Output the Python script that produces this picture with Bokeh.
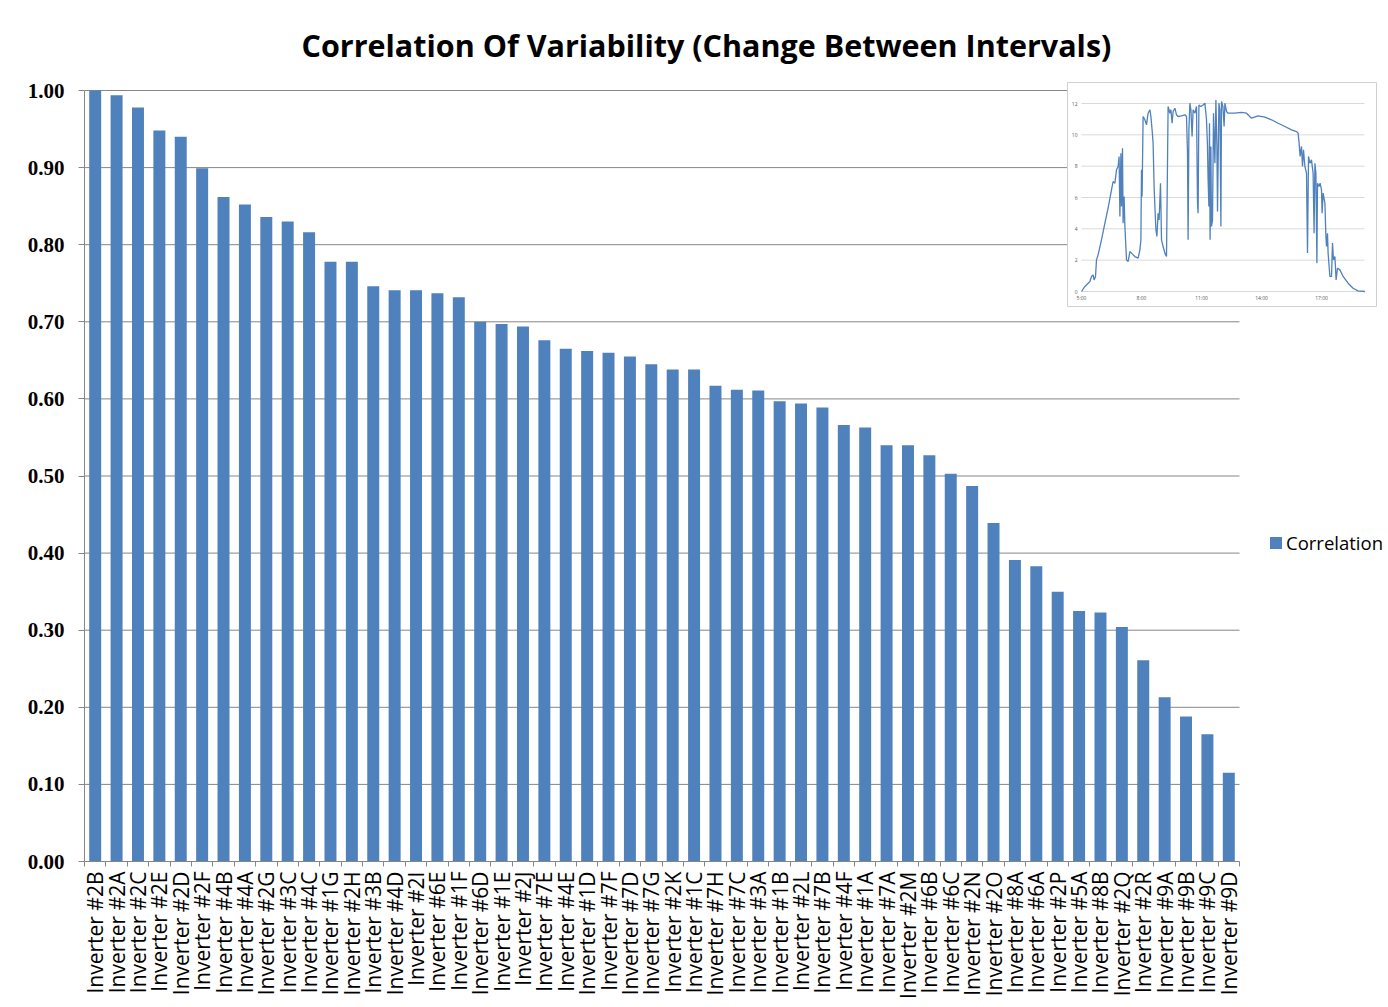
import math
from bokeh.plotting import figure
from bokeh.models import (Range1d, FixedTicker, PrintfTickFormatter, ColumnDataSource,
                          Legend, LegendItem)
from bokeh.core.properties import value
from bokeh.embed import file_html
from bokeh.resources import INLINE

# ---------------- data ----------------
inverters = [
    "Inverter #2B", "Inverter #2A", "Inverter #2C", "Inverter #2E", "Inverter #2D", "Inverter #2F",
    "Inverter #4B", "Inverter #4A", "Inverter #2G", "Inverter #3C", "Inverter #4C", "Inverter #1G",
    "Inverter #2H", "Inverter #3B", "Inverter #4D", "Inverter #2I", "Inverter #6E", "Inverter #1F",
    "Inverter #6D", "Inverter #1E", "Inverter #2J", "Inverter #7E", "Inverter #4E", "Inverter #1D",
    "Inverter #7F", "Inverter #7D", "Inverter #7G", "Inverter #2K", "Inverter #1C", "Inverter #7H",
    "Inverter #7C", "Inverter #3A", "Inverter #1B", "Inverter #2L", "Inverter #7B", "Inverter #4F",
    "Inverter #1A", "Inverter #7A", "Inverter #2M", "Inverter #6B", "Inverter #6C", "Inverter #2N",
    "Inverter #2O", "Inverter #8A", "Inverter #6A", "Inverter #2P", "Inverter #5A", "Inverter #8B",
    "Inverter #2Q", "Inverter #2R", "Inverter #9A", "Inverter #9B", "Inverter #9C", "Inverter #9D",
]
correlation = [
    1.000, 0.994, 0.978, 0.948, 0.940, 0.899,
    0.862, 0.852, 0.836, 0.830, 0.816, 0.778,
    0.778, 0.746, 0.741, 0.741, 0.737, 0.732,
    0.700, 0.697, 0.694, 0.676, 0.665, 0.662,
    0.660, 0.655, 0.645, 0.638, 0.638, 0.617,
    0.612, 0.611, 0.597, 0.594, 0.589, 0.566,
    0.563, 0.540, 0.540, 0.527, 0.503, 0.487,
    0.439, 0.391, 0.383, 0.350, 0.325, 0.323,
    0.304, 0.261, 0.213, 0.188, 0.165, 0.115,
]
y_ticks = [0.0, 0.1, 0.2, 0.3, 0.4, 0.5, 0.6, 0.7, 0.8, 0.9, 1.0]
series_name = "Correlation"
title_text = "Correlation Of Variability (Change Between Intervals)"

# inset: daily output curve (hour of day, output)
inset_hours = [
    5.00, 5.17, 5.42, 5.50, 5.58, 5.63, 5.70, 5.75, 5.83, 6.00, 6.17, 6.33, 6.50, 6.58, 6.67,
    6.75, 6.83, 6.88, 6.92, 6.97, 7.00, 7.05, 7.08, 7.13, 7.17, 7.25, 7.33, 7.42, 7.50, 7.67,
    7.83, 7.92, 7.97, 8.00, 8.03, 8.08, 8.17, 8.25, 8.33, 8.42, 8.47, 8.53, 8.58, 8.63, 8.67,
    8.72, 8.77, 8.83, 8.88, 8.95, 9.00, 9.08, 9.17, 9.25, 9.33, 9.42, 9.47, 9.53, 9.58, 9.67,
    9.75, 9.83, 10.00, 10.17, 10.25, 10.30, 10.33, 10.37, 10.42, 10.47, 10.53, 10.58, 10.67,
    10.75, 10.80, 10.83, 10.87, 10.97, 11.08, 11.17, 11.25, 11.30, 11.33, 11.37, 11.40, 11.43,
    11.47, 11.50, 11.55, 11.60, 11.67, 11.72, 11.77, 11.80, 11.87, 11.92, 11.97, 12.00, 12.07,
    12.13, 12.17, 12.25, 12.33, 12.67, 13.00, 13.25, 13.50, 13.83, 14.17, 14.50, 14.83, 15.17,
    15.50, 15.75, 15.83, 15.88, 15.93, 16.00, 16.05, 16.10, 16.17, 16.25, 16.30, 16.35, 16.42,
    16.50, 16.58, 16.63, 16.67, 16.72, 16.77, 16.80, 16.87, 16.93, 17.00, 17.03, 17.08, 17.17,
    17.22, 17.25, 17.30, 17.33, 17.42, 17.50, 17.55, 17.60, 17.67, 17.73, 17.80, 17.92, 18.08,
    18.33, 18.58, 18.83, 19.17,
]
inset_output = [
    0.00, 0.32, 0.64, 0.96, 1.06, 0.74, 0.96, 2.02, 2.34, 3.30, 4.36, 5.32, 6.49, 7.02, 6.91,
    7.77, 7.98, 8.62, 4.79, 8.83, 5.43, 9.15, 4.36, 6.06, 4.15, 2.02, 1.91, 2.55, 2.45, 2.23,
    2.13, 2.66, 3.30, 7.77, 6.06, 11.17, 10.96, 10.64, 11.38, 11.60, 11.17, 10.32, 9.47, 6.70, 5.43,
    3.94, 3.51, 5.00, 4.57, 6.91, 3.30, 2.87, 2.45, 2.23, 11.81, 11.38, 11.60, 10.74, 11.49, 11.70,
    11.28, 11.17, 11.21, 11.28, 11.17, 8.83, 3.30, 10.32, 12.02, 11.60, 9.89, 11.60, 11.38,
    11.81, 5.64, 5.00, 11.91, 11.81, 11.91, 12.02, 10.96, 9.26, 7.13, 5.43, 10.74, 3.30,
    9.26, 4.15, 4.57, 11.38, 8.19, 12.23, 9.26, 5.11, 12.02, 11.60, 4.15, 12.13, 11.81,
    10.53, 12.02, 11.49, 11.38, 11.38, 11.43, 11.38, 11.06, 11.21, 11.13, 10.96, 10.74, 10.53,
    10.32, 10.21, 10.11, 9.47, 8.62, 9.26, 7.98, 9.04, 7.98, 7.55, 2.45, 8.62, 8.19,
    8.40, 7.55, 3.72, 8.19, 7.55, 1.81, 6.91, 6.70, 6.91, 6.49, 5.00, 6.28, 5.64,
    3.51, 2.87, 3.72, 2.45, 0.96, 0.96, 3.09, 2.02, 2.23, 0.74, 1.49, 1.38, 0.96,
    0.53, 0.21, 0.04, 0.00,
]
inset_y_ticks = [0, 2, 4, 6, 8, 10, 12]
inset_y_labels = ["0", "2", "4", "6", "8", "10", "12"]
inset_x_ticks = [5, 8, 11, 14, 17]
inset_x_labels = ["5:00", "8:00", "11:00", "14:00", "17:00"]

# ---------------- layout constants (page pixels) ----------------
PAGE = 1                                        # observed page offset of the figure
FIG_W, FIG_H = 1386, 1004
FR_L, FR_R, FR_T, FR_B = 85, 1384, 80, 862     # frame edges
CAT_R = 1240                                    # right end of category axis
Y1_PX = 91                                      # pixel of value 1.00

BAR_COLOR = "#4f81bd"
GRID_COLOR = "#868686"

n = len(inverters)
x_end = -0.5 + n * (FR_R - FR_L) / (CAT_R - FR_L)
y_end = 1.0 + (Y1_PX - FR_T) / (FR_B - Y1_PX)

p = figure(width=FIG_W, height=FIG_H, output_backend="svg", toolbar_location=None,
           x_range=Range1d(-0.5, x_end), y_range=Range1d(0, y_end),
           min_border_left=FR_L - PAGE, min_border_right=PAGE + FIG_W - FR_R,
           min_border_top=FR_T - PAGE, min_border_bottom=PAGE + FIG_H - FR_B,
           background_fill_color="white", border_fill_color="white")
p.outline_line_color = None
p.xgrid.visible = False
p.ygrid.visible = False

# title
p.title.text = title_text
p.title.text_font = "Open Sans"
p.title.text_font_style = "bold"
p.title.text_font_size = "30.5px"
p.title.text_color = "#000000"
p.title.align = "left"
p.title.offset = 217
p.title.standoff = 27

# inset ranges (pixel mapping of the inset chart)
IN_X5_PX, IN_PX_PER_H = 1082, 20.0
IN_Y0_PX, IN_Y12_PX = 292, 104
in_px_per_unit = (IN_Y0_PX - IN_Y12_PX) / 12.0
def ix(px):
    return 5 + (px - IN_X5_PX) / IN_PX_PER_H
def iy(py):
    return (IN_Y0_PX - py) / in_px_per_unit
p.extra_x_ranges = {"inset": Range1d(ix(FR_L), ix(FR_R))}
p.extra_y_ranges = {"inset": Range1d(iy(FR_B), iy(FR_T))}

# main gridlines
grid_vals = [t for t in y_ticks if t > 0]
p.segment(x0=[-0.5] * len(grid_vals), x1=[n - 0.5] * len(grid_vals), y0=grid_vals, y1=grid_vals,
          line_color=GRID_COLOR, line_width=1)

# bars
src = ColumnDataSource(dict(x=list(range(n)), top=correlation, name=inverters))
bars = p.vbar(x="x", top="top", bottom=0, width=0.56, source=src,
              fill_color=BAR_COLOR, line_color=None)

# axes
xa = p.xaxis[0]
xa.ticker = FixedTicker(ticks=list(range(n)), minor_ticks=[i - 0.5 for i in range(n + 1)])
xa.major_label_overrides = {i: name for i, name in enumerate(inverters)}
xa.major_label_orientation = math.pi / 2
xa.major_label_text_font = "Open Sans"
xa.major_label_text_font_size = "21px"
xa.major_label_text_color = "#000000"
xa.major_label_standoff = 5
xa.major_tick_line_color = None
xa.major_tick_out = 0
xa.major_tick_in = 0
xa.minor_tick_line_color = GRID_COLOR
xa.minor_tick_out = 5
xa.minor_tick_in = 0
xa.axis_line_color = GRID_COLOR
xa.bounds = (-0.5, n - 0.5)

ya = p.yaxis[0]
ya.ticker = FixedTicker(ticks=y_ticks)
ya.formatter = PrintfTickFormatter(format="%.2f")
ya.major_label_text_font = "Liberation Serif"
ya.major_label_text_font_style = "bold"
ya.major_label_text_font_size = "21px"
ya.major_label_text_color = "#000000"
ya.major_label_standoff = 14
ya.major_tick_out = 6
ya.major_tick_in = 0
ya.major_tick_line_color = GRID_COLOR
ya.minor_tick_line_color = None
ya.axis_line_color = GRID_COLOR
ya.bounds = (0, 1)

# inset chart
IN_BOX = (1068, 1377, 83, 307)  # left, right, top, bottom px
p.quad(left=[ix(IN_BOX[0])], right=[ix(IN_BOX[1])], top=[iy(IN_BOX[2])], bottom=[iy(IN_BOX[3])],
       fill_color="white", line_color="#d0d0d0", line_width=1,
       x_range_name="inset", y_range_name="inset")
in_right = ix(1365)
p.segment(x0=[5] * len(inset_y_ticks), x1=[in_right] * len(inset_y_ticks),
          y0=inset_y_ticks, y1=inset_y_ticks, line_color="#d9d9d9", line_width=1,
          x_range_name="inset", y_range_name="inset")
p.line(x=inset_hours, y=inset_output, line_color=BAR_COLOR, line_width=1.3,
       x_range_name="inset", y_range_name="inset")
p.text(x=[ix(1078)] * len(inset_y_ticks), y=inset_y_ticks, text=inset_y_labels,
       text_font=value("Open Sans"), text_font_size="5px", text_color="#595959",
       text_align="right", text_baseline="middle",
       x_range_name="inset", y_range_name="inset")
p.text(x=inset_x_ticks, y=[iy(298)] * len(inset_x_ticks), text=inset_x_labels,
       text_font=value("Open Sans"), text_font_size="5px", text_color="#595959",
       text_align="center", text_baseline="middle",
       x_range_name="inset", y_range_name="inset")

# legend
legend = Legend(items=[LegendItem(label=series_name, renderers=[bars])],
                location=(1269 - FR_L, FR_B - 556), orientation="vertical",
                label_text_font="Open Sans", label_text_font_size="18.5px",
                label_text_color="#000000", glyph_width=15, glyph_height=15,
                label_standoff=3, padding=0, margin=0, spacing=0,
                border_line_color=None, background_fill_alpha=0)
p.add_layout(legend)

open("out.html", "w").write(file_html(p, INLINE))
